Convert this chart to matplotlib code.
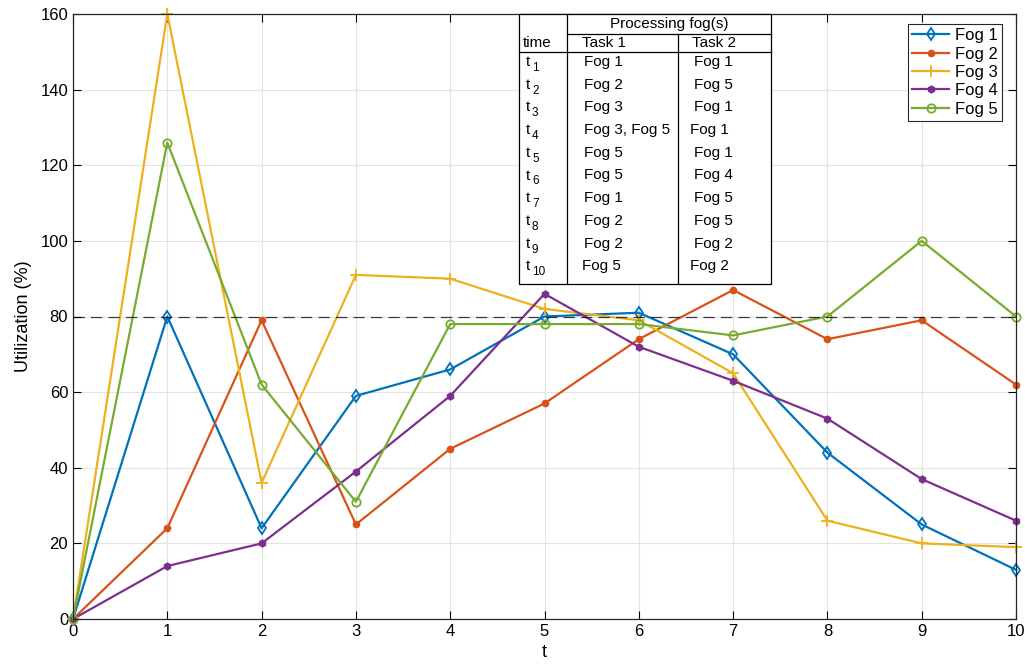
import numpy as np
import matplotlib
matplotlib.use("Agg")
import matplotlib.pyplot as plt
from matplotlib.lines import Line2D

plt.rcParams['font.family'] = ['Liberation Sans', 'DejaVu Sans']

# data
t = np.arange(0, 11)
fog1 = [0, 80, 24, 59, 66, 80, 81, 70, 44, 25, 13]
fog2 = [0, 24, 79, 25, 45, 57, 74, 87, 74, 79, 62]
fog3 = [0, 160, 36, 91, 90, 82, 79, 65, 26, 20, 19]
fog4 = [0, 14, 20, 39, 59, 86, 72, 63, 53, 37, 26]
fog5 = [0, 126, 62, 31, 78, 78, 78, 75, 80, 100, 80]
threshold = 80

table_subs = [str(i) for i in range(1, 11)]
table_task1 = ["Fog 1", "Fog 2", "Fog 3", "Fog 3, Fog 5", "Fog 5",
               "Fog 5", "Fog 1", "Fog 2", "Fog 2", "Fog 5"]
table_task2 = ["Fog 1", "Fog 5", "Fog 1", "Fog 1", "Fog 1",
               "Fog 4", "Fog 5", "Fog 5", "Fog 2", "Fog 2"]

W, H = 1025, 666
fig = plt.figure(figsize=(W / 100, H / 100), dpi=100)
ax = fig.add_axes([73 / W, 1 - 619 / H, (1016 - 73) / W, (619 - 14) / H])

series = [
    (fog1, 'Fog 1', '#0072BD', dict(marker='d', mfc='none', ms=6, mew=1.3)),
    (fog2, 'Fog 2', '#D95319', dict(marker='o', mfc='#D95319', ms=4.5)),
    (fog3, 'Fog 3', '#EDB120', dict(marker='+', ms=9, mew=1.3)),
    (fog4, 'Fog 4', '#7E2F8E', dict(marker='h', mfc='#7E2F8E', ms=5)),
    (fog5, 'Fog 5', '#77AC30', dict(marker='o', mfc='none', ms=6, mew=1.3)),
]
for vals, name, col, mk in series:
    ax.plot(t, vals, color=col, lw=1.6, label=name, clip_on=False, **mk)

ax.plot([0, 10], [threshold, threshold], color='black', lw=0.9,
        dashes=(9, 5), alpha=0.75)

ax.set_xlim(0, 10)
ax.set_ylim(0, 160)
ax.set_xticks(range(0, 11))
ax.set_yticks(range(0, 161, 20))
ax.tick_params(direction='in', top=True, right=True, labelsize=12,
               length=6, width=0.8)
ax.grid(True, color='#e3e3e3', lw=0.8)
ax.set_axisbelow(True)
for s in ax.spines.values():
    s.set_linewidth(0.9)
    s.set_color('#262626')
ax.set_xlabel('t', fontsize=13, labelpad=4)
ax.set_ylabel('Utilization (%)', fontsize=13, labelpad=6)

leg = ax.legend(loc='upper right', bbox_to_anchor=(1002 / W, 1 - 24 / H),
                bbox_transform=fig.transFigure, fontsize=12, fancybox=False,
                edgecolor='#262626', framealpha=1, borderaxespad=0,
                handlelength=2.2, labelspacing=0.2, borderpad=0.25,
                handletextpad=0.35)
leg.get_frame().set_linewidth(0.8)


# table drawn in figure pixel coordinates
def px(x, y):
    return x / W, 1 - y / H


def hline(x0, x1, y):
    fig.add_artist(Line2D([x0 / W, x1 / W], [1 - y / H, 1 - y / H],
                          color='black', lw=0.9, transform=fig.transFigure,
                          zorder=6))


def vline(x, y0, y1):
    fig.add_artist(Line2D([x / W, x / W], [1 - y0 / H, 1 - y1 / H],
                          color='black', lw=0.9, transform=fig.transFigure,
                          zorder=6))


tx0, tx1, ty0, ty1 = 519, 771, 14, 284
c1, c2 = 567, 678
fig.patches.append(plt.Rectangle(px(tx0, ty1), (tx1 - tx0) / W,
                                 (ty1 - ty0) / H, transform=fig.transFigure,
                                 facecolor='white', edgecolor='black', lw=0.9,
                                 zorder=5))
hline(c1, tx1, 34)
hline(tx0, tx1, 52)
vline(c1, 14, 284)
vline(c2, 34, 284)

fs = 11
kw = dict(va='center', fontsize=fs, zorder=7)
fig.text(*px((c1 + tx1) / 2, 24), 'Processing fog(s)', ha='center', **kw)
fig.text(*px(523, 43), 'time', ha='left', **kw)
fig.text(*px(582, 43), 'Task 1', ha='left', **kw)
fig.text(*px(692, 43), 'Task 2', ha='left', **kw)
for i in range(10):
    y = 62 + i * 22.7
    fig.text(*px(526, y), 't', ha='left', **kw)
    fig.text(*px(532, y + 6), table_subs[i], ha='left', va='center',
             fontsize=8.5, zorder=7)
    x1 = 584 if i != 9 else 582
    x2 = 694 if i not in (3, 9) else 690
    fig.text(*px(x1, y), table_task1[i], ha='left', **kw)
    fig.text(*px(x2, y), table_task2[i], ha='left', **kw)

fig.savefig('out.png', dpi=100)
